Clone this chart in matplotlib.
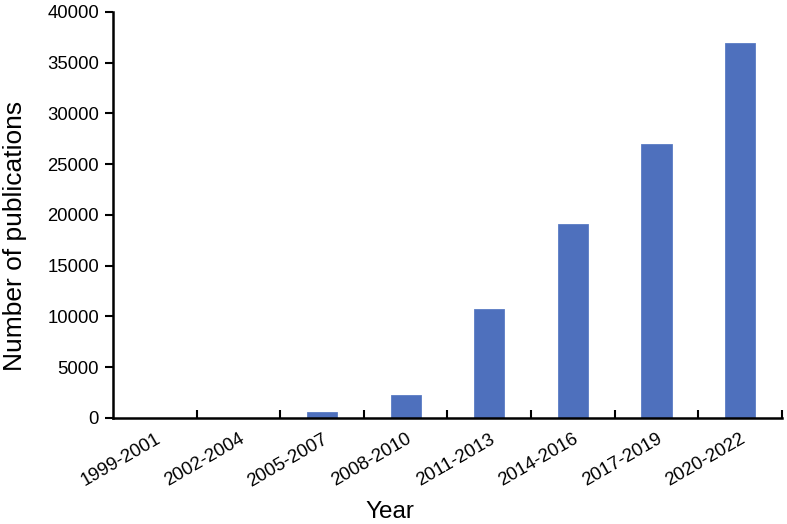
import matplotlib.pyplot as plt
import numpy as np

plt.rcParams['font.family'] = ['Liberation Sans', 'DejaVu Sans']

periods = ['1999-2001', '2002-2004', '2005-2007', '2008-2010',
           '2011-2013', '2014-2016', '2017-2019', '2020-2022']
publications = [5, 20, 600, 2300, 10700, 19100, 27000, 36900]
y_ticks = [0, 5000, 10000, 15000, 20000, 25000, 30000, 35000, 40000]

fig = plt.figure(figsize=(7.87, 5.24), dpi=100)
ax = fig.add_axes([0.1436, 0.2023, 0.8500, 0.7748])

x = np.arange(len(periods))
ax.bar(x, publications, width=0.36, color='#4e70bd', edgecolor='#5a7cc4', linewidth=0.6, zorder=2)

ax.set_xlim(-0.5, len(periods) - 0.5)
ax.set_ylim(0, 40000)
ax.set_yticks(y_ticks)
ax.set_yticklabels([str(v) for v in y_ticks], fontsize=13.3)

# labels at bar centres, tick marks at category boundaries
ax.set_xticks(x)
ax.set_xticklabels(periods, rotation=30, ha='right', rotation_mode='anchor', fontsize=13.4)
ax.tick_params(axis='x', which='major', length=0, pad=9)
ax.set_xticks(np.arange(0.5, len(periods), 1), minor=True)
ax.tick_params(axis='x', which='minor', direction='in', length=6, width=1.5)
ax.tick_params(axis='y', direction='out', length=6, width=1.5, pad=4)

for side in ('top', 'right'):
    ax.spines[side].set_visible(False)
for side in ('left', 'bottom'):
    ax.spines[side].set_linewidth(1.8)

ax.set_xlabel('Year', fontsize=17.5)
ax.xaxis.set_label_coords(0.414, -0.205)
ax.set_ylabel('Number of publications', fontsize=19)
ax.yaxis.set_label_coords(-0.128, 0.448)

fig.savefig('out.png', dpi=100)
